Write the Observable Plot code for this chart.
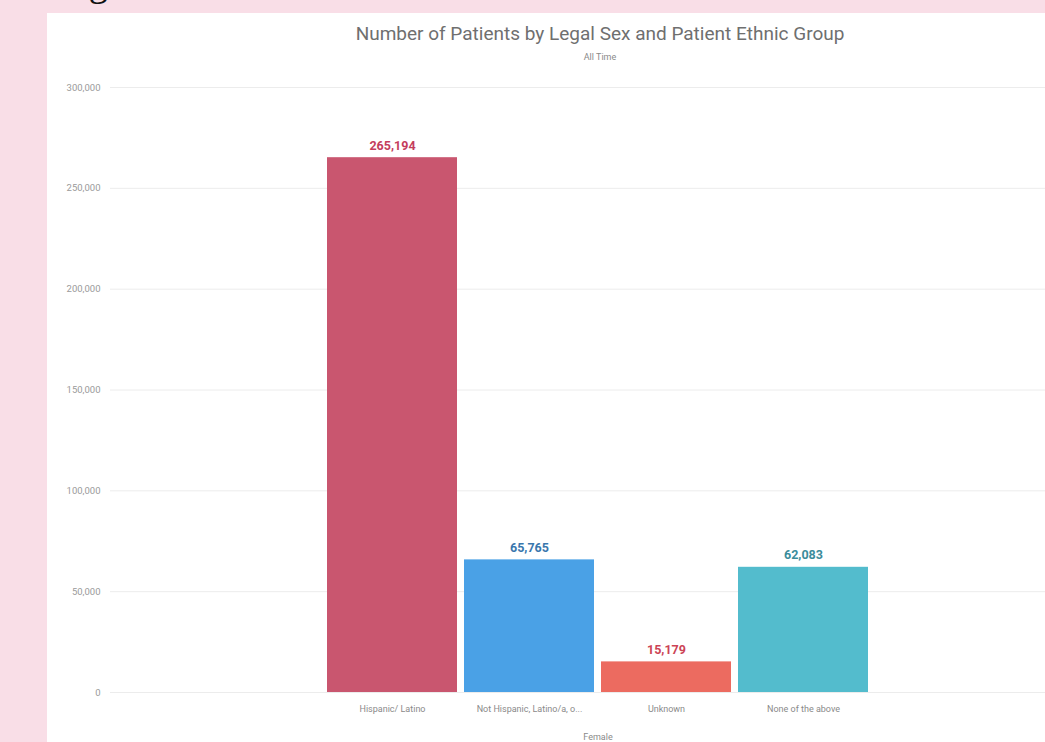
<!DOCTYPE html>
<html>
<head>
<meta charset="utf-8">
<script src="https://cdn.jsdelivr.net/npm/d3@7"></script>
<script src="https://cdn.jsdelivr.net/npm/@observablehq/plot@0.6"></script>
<style>
  html, body { margin: 0; padding: 0; }
  body { width: 1045px; height: 742px; overflow: hidden; background: #f9dee7; position: relative; }
  #heading { position: absolute; left: 57px; top: -39px; font-family: "Liberation Serif", "DejaVu Serif", serif; font-size: 38px; color: #111; white-space: nowrap; }
  #panel { position: absolute; left: 47px; top: 13px; width: 1106px; height: 760px; background: #fff; }
  #title { position: absolute; left: 0; width: 1106px; top: 9px; text-align: center; font-family: Roboto, sans-serif; font-size: 19px; color: #6f6f6f; }
  #subtitle { position: absolute; left: 0; width: 1106px; top: 39px; text-align: center; font-family: Roboto, sans-serif; font-size: 9px; color: #8a8a8a; }
  #chart { position: absolute; left: 0; top: 54px; }
</style>
</head>
<body>
<div id="heading">Figure 1</div>
<div id="panel">
  <div id="title">Number of Patients by Legal Sex and Patient Ethnic Group</div>
  <div id="subtitle">All Time</div>
  <div id="chart"></div>
</div>
<script>
const categories = ["Hispanic/ Latino", "Not Hispanic, Latino/a, o...", "Unknown", "None of the above"];
const values = [265194, 65765, 15179, 62083];
const barColors = ["#c9566f", "#4aa1e6", "#ec6b60", "#53bccd"];
const labelColors = ["#c43d5d", "#3a77ad", "#cc4455", "#3b8c9b"];
const yTicks = [0, 50000, 100000, 150000, 200000, 250000, 300000];
const groupLabel = "Female";

const data = categories.map((c, i) => ({cat: c, value: values[i], color: barColors[i], lcolor: labelColors[i]}));
const fmt = d3.format(",");

const chart = Plot.plot({
  width: 1106,
  height: 687,
  marginTop: 20,
  marginLeft: 63,
  marginRight: 68,
  marginBottom: 62,
  style: {fontFamily: "Roboto, sans-serif", background: "transparent"},
  x: {domain: categories, range: [273, 828], padding: 0.05},
  y: {domain: [0, 300000]},
  color: {type: "identity"},
  marks: [
    Plot.gridY(yTicks, {stroke: "#ececec", strokeOpacity: 1, strokeWidth: 1}),
    Plot.axisY(yTicks, {tickFormat: fmt, tickSize: 0, tickPadding: 10, fontSize: 9.5, fill: "#9a9a9a", label: null}),
    Plot.axisX({tickSize: 0, tickPadding: 13, fontSize: 9, fill: "#8a8a8a", label: groupLabel, labelAnchor: "center", labelArrow: "none", labelOffset: 47}),
    Plot.barY(data, {x: "cat", y: "value", fill: "color"}),
    Plot.text(data, {x: "cat", y: "value", text: d => fmt(d.value), fill: "lcolor", dy: -12, fontSize: 12.5, fontWeight: "bold"})
  ]
});
document.getElementById("chart").appendChild(chart);
</script>
</body>
</html>
